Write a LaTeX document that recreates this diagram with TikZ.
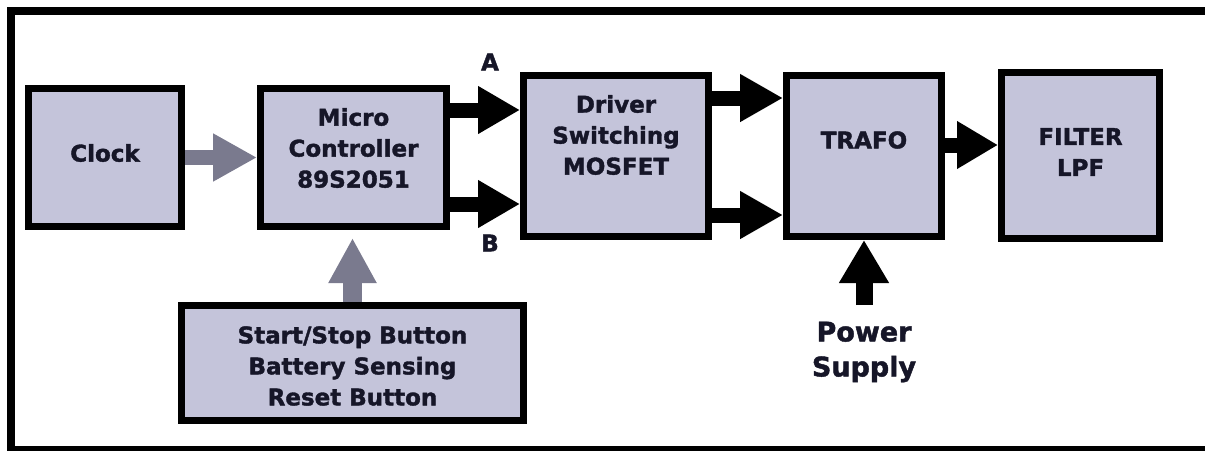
\documentclass[tikz,border=0pt]{standalone}
\usepackage{fontspec}
\setmainfont{DejaVu Sans}[BoldFeatures={FakeBold=1.6}]
\usetikzlibrary{arrows.meta}
\definecolor{boxfill}{RGB}{196,196,218}
\definecolor{grayarrow}{RGB}{122,122,142}
\definecolor{inkc}{RGB}{22,22,40}
\begin{document}
\begin{tikzpicture}[x=1pt,y=-1pt,
  blk/.style={draw=black, fill=boxfill, line width=7pt, inner sep=0pt},
  txt/.style={font=\fontsize{23}{31}\selectfont\bfseries, text=inkc, align=center, inner sep=0pt},
  lbl/.style={font=\fontsize{23}{27}\selectfont\bfseries, text=inkc, inner sep=0pt},
  fatblack/.style={draw=black, line width=15pt, -{Triangle[width=45pt,length=42pt]}},
  fatgray/.style={draw=grayarrow, line width=15pt, -{Triangle[width=45pt,length=44pt]}}]
\useasboundingbox (0,0) rectangle (1205,450);
\clip (0,0) rectangle (1205,450);
% frame
\draw[line width=8pt] (11,11) rectangle (1230,450);
% boxes
\node[blk, minimum width=153pt, minimum height=138pt] (clock) at (105,157.5) {};
\node[blk, minimum width=186pt, minimum height=138pt] (micro) at (353.5,157.5) {};
\node[blk, minimum width=185pt, minimum height=161pt] (driver) at (616,156) {};
\node[blk, minimum width=155pt, minimum height=161pt] (trafo) at (864,156) {};
\node[blk, minimum width=158pt, minimum height=166pt] (filter) at (1080.5,155.5) {};
\node[blk, minimum width=342pt, minimum height=115pt] (bot) at (352.5,363) {};
% texts
\node[txt] (clockt) at (105,153) {Clock};
\node[txt] (microt) at (353.5,148) {Micro\\Controller\\89S2051};
\node[txt] (drivert) at (616,135) {Driver\\Switching\\MOSFET};
\node[txt] (trafot) at (864,140) {TRAFO};
\node[txt] (filtert) at (1080.5,152) {FILTER\\LPF};
\node[txt] (bott) at (352.5,366) {Start/Stop Button\\Battery Sensing\\Reset Button};
\node[lbl] (la) at (490,62) {A};
\node[lbl] (lb) at (490,243) {B};
\node[font=\fontsize{27}{35}\selectfont\bfseries, text=inkc, align=center, inner sep=0pt] (pwt) at (864,352) {Power\\Supply};
% helper coordinates
\coordinate (ya) at (0,110);
\coordinate (yb) at (0,204);
\coordinate (yc) at (0,98);
\coordinate (yd) at (0,215);
\coordinate (ye) at (0,145);
\coordinate (pw) at (864,305);
\coordinate (mtip) at (352.5,238);
% arrows
\draw[fatgray] (clock.east) -- (micro.west);
\draw[fatblack] (micro.east |- ya) -- (driver.west |- ya);
\draw[fatblack] (micro.east |- yb) -- (driver.west |- yb);
\draw[fatblack, -{Triangle[width=45pt,length=43pt]}] (driver.east |- yc) -- (trafo.west |- yc);
\draw[fatblack, -{Triangle[width=45pt,length=43pt]}] (driver.east |- yd) -- (trafo.west |- yd);
\draw[fatblack, -{Triangle[width=45pt,length=41pt]}] (trafo.east |- ye) -- (filter.west |- ye);
\draw[fatblack, line width=17pt, -{Triangle[width=47pt,length=43pt]}] (pw) -- (trafo.south);
\draw[fatgray, line width=19pt, -{Triangle[width=45pt,length=45pt]}] (bot.north) -- (mtip);
\end{tikzpicture}
\end{document}
